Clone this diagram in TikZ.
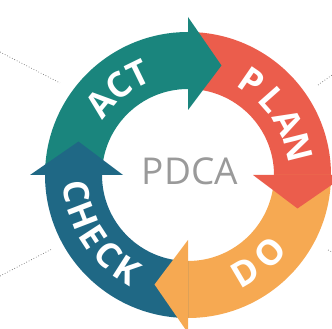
\documentclass[tikz,border=0pt]{standalone}
\usepackage{fontspec}
\setmainfont{Open Sans}
\usetikzlibrary{calc}
\definecolor{actc}{HTML}{1A857D}
\definecolor{planc}{HTML}{EB5D4C}
\definecolor{doc}{HTML}{F6A952}
\definecolor{checkc}{HTML}{1F6885}
\definecolor{pdcagray}{HTML}{9A9A9A}
\def\Ro{143}\def\Ri{86}\def\Rm{114.5}\def\Bo{158}\def\Bi{65}\def\Tip{17}
\newcommand\pdcaband[3]{%
  \fill[#1] ($(O)+(#2:\Ro)$) arc[start angle=#2,end angle=#3,radius=\Ro]
    -- ($(O)+(#3:\Ri)$) arc[start angle=#3,end angle=#2,radius=\Ri] -- cycle;}
\newcommand\pdcahead[2]{%
  \fill[#1] ($(O)+(#2:\Bo)$) -- ($(O)+(#2-\Tip:\Rm)$) -- ($(O)+(#2:\Bi)$) -- cycle;}
\newcommand\pdcaletter[4]{% name, angle, rotation, letter
  \node[letter, rotate=#3] (#1) at ($(O)+(#2:113)$) {#4};}
\begin{document}
\begin{tikzpicture}[x=1pt,y=1pt,
  letter/.style={text=white, inner sep=0pt, font=\bfseries\fontsize{35}{35}\selectfont},
  dotline/.style={draw=gray!90!black, line width=0.7pt, dotted}]
\useasboundingbox (0,0) rectangle (332,329);
\coordinate (O) at (188,154);
% dotted leader lines
\coordinate (tl1) at (0,277); \coordinate (tl2) at (60,246);
\coordinate (bl1) at (0,53); \coordinate (bl2) at (52,80);
\coordinate (tr1) at (318,244); \coordinate (tr2) at (332,254);
\coordinate (br1) at (328,79); \coordinate (br2) at (332,77);
\draw[dotline] (tl1) -- (tl2);
\draw[dotline] (bl1) -- (bl2);
\draw[dotline] (tr1) -- (tr2);
\draw[dotline] (br1) -- (br2);
% bands
\pdcaband{actc}{180}{90}
\pdcaband{planc}{90}{0}
\pdcaband{doc}{0}{-90}
\pdcaband{checkc}{-90}{-180}
% heads
\pdcahead{actc}{90}
\pdcahead{planc}{0}
\pdcahead{doc}{-90}
\pdcahead{checkc}{180}
% labels
\pdcaletter{a1}{140.5}{50.5}{A}
\pdcaletter{a2}{128}{38}{C}
\pdcaletter{a3}{116}{26}{T}
\pdcaletter{p1}{55.5}{-34.5}{P}
\pdcaletter{p2}{41.5}{-48.5}{L}
\pdcaletter{p3}{28}{-62}{A}
\pdcaletter{p4}{14}{-76}{N}
\pdcaletter{d1}{-59.5}{30.5}{D}
\pdcaletter{d2}{-43.5}{46.5}{O}
\pdcaletter{c1}{188.5}{278.5}{C}
\pdcaletter{c2}{201}{291}{H}
\pdcaletter{c3}{213}{303}{E}
\pdcaletter{c4}{225}{315}{C}
\pdcaletter{c5}{237.5}{327.5}{K}
\node[text=pdcagray, inner sep=0pt, font=\fontsize{37}{37}\selectfont] (pdca) at (190,158) {PDCA};
\end{tikzpicture}
\end{document}
